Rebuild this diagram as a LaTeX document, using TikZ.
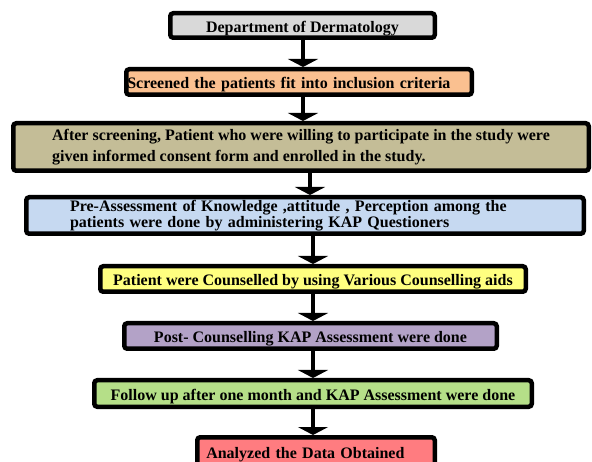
\documentclass[tikz,border=0pt]{standalone}
\usepackage{fontspec}
\setmainfont{Liberation Serif}
\usepackage{tikz}
\usetikzlibrary{arrows.meta}
\definecolor{boxgray}{RGB}{217,217,217}
\definecolor{boxpeach}{RGB}{250,192,144}
\definecolor{boxtan}{RGB}{196,189,151}
\definecolor{boxblue}{RGB}{198,217,241}
\definecolor{boxyellow}{RGB}{255,255,128}
\definecolor{boxlilac}{RGB}{179,162,199}
\definecolor{boxgreen}{RGB}{181,223,136}
\definecolor{boxsalmon}{RGB}{255,124,128}
\tikzset{stagebox/.style={rectangle, rounded corners=3pt, draw=black,
  line width=4.5pt, inner ysep=0pt, inner xsep=2pt}}
\tikzset{onerow/.style={stagebox, text height=15pt, text depth=1pt}}
\tikzset{flowarrow/.style={-{Triangle[width=30pt,length=8pt]}, line width=3.5pt}}

\begin{document}
\begin{tikzpicture}[x=1pt, y=-1pt, font=\fontsize{16}{19}\selectfont\bfseries]
  \useasboundingbox (0,0) rectangle (592,462);
  \coordinate (colA) at (303,0);
  \coordinate (colB) at (310,0);
  \coordinate (colC) at (313,0);
  \node[onerow, fill=boxgray, minimum width=264.5pt, minimum height=24.5pt] (dept) at (302.5,25.5)
    {Department of Dermatology};
  \node[onerow, fill=boxpeach, minimum height=25.5pt, text width=343.5pt, inner xsep=1pt, align=left] (screen) at (299,82)
    {Screened the patients fit into inclusion criteria};
  \node[stagebox, fill=boxtan, minimum width=575.5pt, minimum height=47.5pt, align=left,
    font=\fontsize{16}{21}\selectfont\bfseries] (enrol) at (301,147)
    {After screening, Patient who were willing to participate in  the study were\\
     given informed consent form and  enrolled in the study.};
  \node[stagebox, fill=boxblue, minimum height=36.5pt, text width=470pt, inner xsep=43.75pt, align=left,
    font=\fontsize{16}{13}\selectfont\bfseries] (preass) at (305,215.5)
    {Pre-Assessment of Knowledge ,attitude , Perception  among the\\
     patients  were done by administering KAP Questioners};
  \node[onerow, fill=boxyellow, minimum width=425.5pt, minimum height=25.5pt] (counsel) at (313,279)
    {Patient were Counselled  by using Various Counselling aids};
  \node[onerow, fill=boxlilac, minimum width=372.5pt, minimum height=25.5pt] (post) at (310.5,336)
    {Post- Counselling KAP Assessment were done};
  \node[onerow, fill=boxgreen, minimum width=437.5pt, minimum height=26.5pt] (follow) at (313,393.5)
    {Follow up after one  month and KAP Assessment were done};
  \node[onerow, fill=boxsalmon, minimum height=28.5pt, text width=219.5pt, inner xsep=9pt, align=left] (data) at (316,451.5)
    {Analyzed the Data  Obtained};
  \draw[flowarrow] (dept.south -| colA) -- (screen.north -| colA);
  \draw[flowarrow] (screen.south -| colA) -- (enrol.north -| colA);
  \draw[flowarrow] (enrol.south -| colB) -- (preass.north -| colB);
  \draw[flowarrow] (preass.south -| colC) -- (counsel.north -| colC);
  \draw[flowarrow] (counsel.south -| colC) -- (post.north -| colC);
  \draw[flowarrow] (post.south -| colC) -- (follow.north -| colC);
  \draw[flowarrow] (follow.south -| colC) -- (data.north -| colC);
\end{tikzpicture}
\end{document}
